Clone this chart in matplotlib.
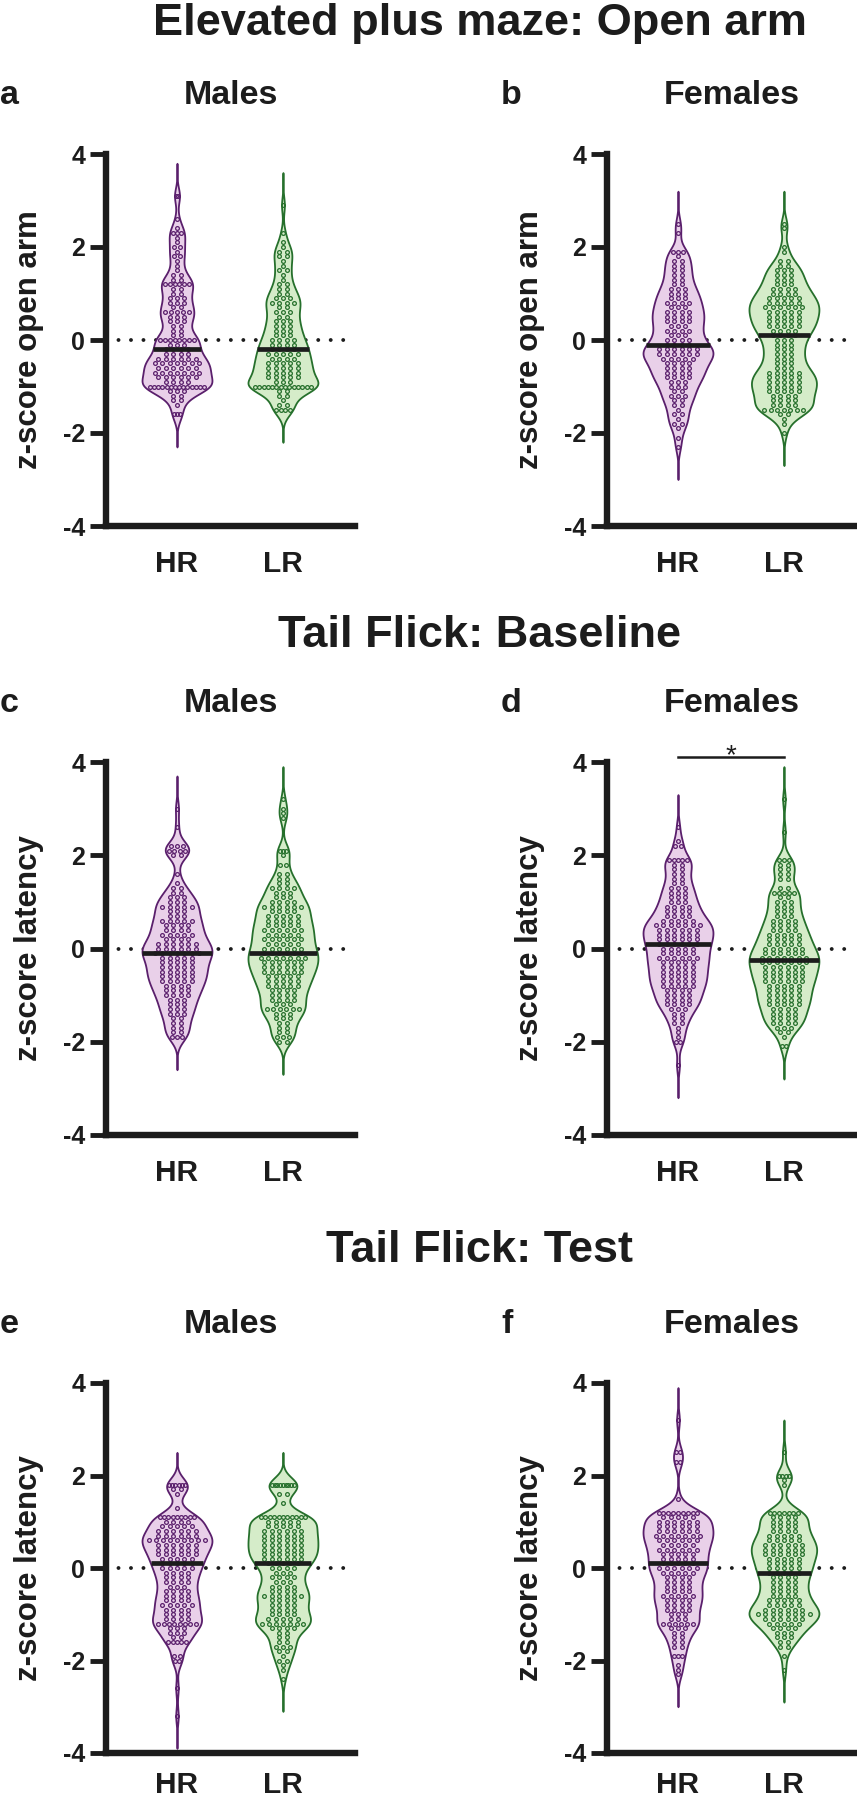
import numpy as np
import matplotlib
matplotlib.use("Agg")
import matplotlib.pyplot as plt
from matplotlib.mlab import GaussianKDE

plt.rcParams['font.family'] = ['Liberation Sans', 'DejaVu Sans']
plt.rcParams['font.weight'] = 'bold'
plt.rcParams['axes.labelweight'] = 'bold'
plt.rcParams['axes.unicode_minus'] = False

# Texte
section_titles = ['Elevated plus maze: Open arm', 'Tail Flick: Baseline', 'Tail Flick: Test']
sexes = ['Males', 'Females']
letters = [['a', 'b'], ['c', 'd'], ['e', 'f']]
y_labels = ['z-score open arm', 'z-score latency', 'z-score latency']
groups = ['HR', 'LR']
y_ticks = [-4, -2, 0, 2, 4]

# Daten: z-score Stufen und Anzahl Tiere pro Stufe (aus der Grafik geschaetzt)
a_hr_y = [-1.6, -1.4, -1.3, -1.2, -1.1, -1.0, -0.9, -0.8, -0.7, -0.6, -0.5, -0.4, -0.3, -0.2, -0.1, 0.0, 0.1, 0.2, 0.3, 0.4,
          0.5, 0.6, 0.7, 0.8, 0.9, 1.0, 1.1, 1.2, 1.3, 1.4, 1.5, 1.6, 1.7, 1.8, 1.9, 2.0, 2.1, 2.2, 2.3, 2.4, 2.6, 3.1]
a_hr_n = [3, 1, 2, 2, 3, 14, 4, 6, 7, 6, 7, 6, 4, 4, 3, 8, 2, 2, 2, 3,
          3, 5, 2, 3, 3, 2, 2, 6, 2, 2, 1, 1, 1, 2, 1, 2, 1, 1, 3, 1, 1, 2]
a_lr_y = [-1.5, -1.4, -1.3, -1.2, -1.1, -1.0, -0.9, -0.8, -0.7, -0.6, -0.5, -0.4, -0.3, -0.2, -0.1, 0.0, 0.1, 0.2, 0.3, 0.4,
          0.5, 0.6, 0.7, 0.8, 0.9, 1.0, 1.1, 1.2, 1.3, 1.4, 1.5, 1.6, 1.7, 1.8, 1.9, 2.0, 2.1, 2.3, 2.9]
a_lr_n = [4, 2, 1, 2, 2, 14, 3, 5, 5, 5, 5, 4, 5, 4, 4, 4, 3, 3, 3, 3,
          2, 3, 2, 4, 3, 2, 2, 2, 1, 1, 2, 1, 1, 2, 2, 1, 1, 1, 1]

b_hr_y = [-2.3, -2.1, -1.9, -1.8, -1.7, -1.6, -1.5, -1.4, -1.3, -1.2, -1.1, -1.0, -0.9, -0.8, -0.7, -0.6, -0.5, -0.4, -0.3, -0.2,
          -0.1, 0.0, 0.1, 0.2, 0.3, 0.4, 0.5, 0.6, 0.7, 0.8, 0.9, 1.0, 1.1, 1.2, 1.3, 1.4, 1.5, 1.6, 1.7, 1.8, 1.9, 2.3, 2.5]
b_hr_n = [1, 1, 1, 2, 1, 2, 1, 2, 2, 3, 2, 3, 3, 4, 4, 4, 4, 5, 6, 6,
          4, 4, 3, 4, 3, 4, 4, 4, 3, 4, 3, 3, 3, 2, 2, 2, 2, 2, 2, 1, 3, 1, 1]
b_lr_y = [-2.0, -1.8, -1.7, -1.6, -1.5, -1.4, -1.3, -1.2, -1.1, -1.0, -0.9, -0.8, -0.7, -0.6, -0.5, -0.4, -0.3, -0.2, -0.1, 0.0,
          0.1, 0.2, 0.3, 0.4, 0.5, 0.6, 0.7, 0.8, 0.9, 1.0, 1.1, 1.2, 1.3, 1.4, 1.5, 1.6, 1.7, 1.9, 2.0, 2.4, 2.5]
b_lr_n = [1, 1, 1, 2, 7, 4, 4, 4, 5, 5, 5, 5, 5, 3, 3, 3, 3, 3, 3, 3,
          4, 4, 5, 5, 5, 5, 6, 5, 5, 4, 4, 3, 3, 3, 3, 2, 2, 1, 1, 1, 1]

c_hr_y = [-1.9, -1.8, -1.7, -1.6, -1.5, -1.4, -1.3, -1.2, -1.1, -1.0, -0.9, -0.8, -0.7, -0.6, -0.5, -0.4, -0.3, -0.2, -0.1, 0.0,
          0.1, 0.2, 0.3, 0.4, 0.5, 0.6, 0.7, 0.8, 0.9, 1.0, 1.1, 1.2, 1.3, 1.4, 1.6, 2.0, 2.1, 2.2, 2.6, 3.0]
c_hr_n = [3, 2, 2, 2, 2, 3, 3, 3, 3, 4, 4, 4, 5, 5, 5, 5, 5, 5, 7, 6,
          6, 4, 5, 4, 4, 5, 3, 3, 5, 3, 3, 2, 2, 1, 1, 2, 4, 3, 1, 1]
c_lr_y = [-2.0, -1.9, -1.8, -1.7, -1.6, -1.5, -1.4, -1.3, -1.2, -1.1, -1.0, -0.9, -0.8, -0.7, -0.6, -0.5, -0.4, -0.3, -0.2, -0.1,
          0.0, 0.1, 0.2, 0.3, 0.4, 0.5, 0.6, 0.7, 0.8, 0.9, 1.0, 1.1, 1.2, 1.3, 1.4, 1.5, 1.6, 1.8, 2.0, 2.1, 2.8, 2.9, 3.0, 3.2]
c_lr_n = [2, 3, 2, 2, 2, 3, 3, 6, 3, 4, 4, 4, 5, 5, 5, 6, 6, 6, 7, 6,
          6, 5, 6, 5, 6, 5, 5, 5, 4, 6, 4, 3, 3, 4, 2, 2, 2, 2, 1, 3, 1, 1, 1, 1]

d_hr_y = [-2.5, -2.0, -1.9, -1.8, -1.7, -1.6, -1.5, -1.4, -1.3, -1.2, -1.1, -1.0, -0.9, -0.8, -0.7, -0.6, -0.5, -0.4, -0.3, -0.2,
          -0.1, 0.0, 0.1, 0.2, 0.3, 0.4, 0.5, 0.6, 0.7, 0.8, 0.9, 1.0, 1.1, 1.2, 1.3, 1.4, 1.5, 1.6, 1.7, 1.8, 1.9, 2.2, 2.3, 2.6]
d_hr_n = [1, 2, 1, 1, 1, 2, 2, 2, 3, 4, 4, 4, 4, 5, 5, 5, 5, 5, 5, 6,
          5, 5, 6, 6, 6, 6, 7, 5, 4, 4, 4, 3, 3, 3, 3, 2, 2, 2, 2, 2, 5, 2, 1, 1]
d_lr_y = [-2.1, -1.9, -1.8, -1.7, -1.6, -1.5, -1.4, -1.3, -1.2, -1.1, -1.0, -0.9, -0.8, -0.7, -0.6, -0.5, -0.4, -0.3, -0.2, -0.1,
          0.0, 0.1, 0.2, 0.3, 0.4, 0.5, 0.6, 0.7, 0.8, 0.9, 1.0, 1.1, 1.2, 1.3, 1.5, 1.6, 1.7, 1.8, 1.9, 2.5, 3.2]
d_lr_n = [2, 1, 2, 3, 4, 4, 4, 4, 5, 5, 5, 5, 5, 6, 6, 6, 6, 7, 7, 6,
          6, 5, 5, 5, 4, 4, 4, 3, 3, 3, 3, 2, 5, 2, 2, 2, 2, 2, 3, 1, 1]

e_hr_y = [-3.2, -2.6, -2.0, -1.9, -1.6, -1.5, -1.4, -1.3, -1.2, -1.1, -1.0, -0.9, -0.8, -0.7, -0.6, -0.5, -0.4, -0.3, -0.2, -0.1,
          0.0, 0.1, 0.2, 0.3, 0.4, 0.5, 0.6, 0.7, 0.8, 0.9, 1.0, 1.1, 1.3, 1.6, 1.7, 1.8]
e_hr_n = [1, 1, 2, 2, 5, 2, 3, 3, 8, 4, 4, 4, 5, 4, 4, 4, 3, 4, 4, 4,
          5, 5, 5, 6, 6, 6, 9, 6, 6, 5, 4, 9, 1, 1, 2, 6]
e_lr_y = [-2.4, -2.2, -2.1, -2.0, -1.9, -1.8, -1.7, -1.6, -1.5, -1.4, -1.3, -1.2, -1.1, -1.0, -0.9, -0.8, -0.7, -0.6, -0.5,
          -0.4, -0.3, -0.2, -0.1, 0.0, 0.1, 0.2, 0.3, 0.4, 0.5, 0.6, 0.7, 0.8, 0.9, 1.0, 1.1, 1.4, 1.6, 1.8]
e_lr_n = [1, 1, 1, 2, 1, 2, 3, 2, 2, 2, 4, 7, 5, 4, 4, 4, 4, 6, 4,
          4, 3, 4, 3, 4, 5, 6, 6, 6, 6, 6, 6, 6, 5, 5, 11, 1, 2, 9]

f_hr_y = [-2.3, -2.2, -2.1, -1.9, -1.7, -1.6, -1.5, -1.4, -1.3, -1.2, -1.1, -1.0, -0.9, -0.8, -0.7, -0.6, -0.5, -0.4, -0.3, -0.2,
          -0.1, 0.0, 0.1, 0.2, 0.3, 0.4, 0.5, 0.6, 0.7, 0.8, 0.9, 1.0, 1.1, 1.2, 1.5, 2.3, 2.5, 3.2]
f_hr_n = [1, 1, 1, 3, 2, 2, 2, 2, 3, 6, 3, 3, 4, 4, 4, 5, 4, 4, 4, 4,
          5, 6, 5, 5, 5, 6, 5, 6, 7, 6, 6, 6, 5, 9, 1, 2, 2, 1]
f_lr_y = [-2.2, -1.9, -1.7, -1.6, -1.5, -1.4, -1.3, -1.2, -1.1, -1.0, -0.9, -0.8, -0.7, -0.6, -0.5, -0.4, -0.3, -0.2, -0.1, 0.0,
          0.1, 0.2, 0.3, 0.4, 0.5, 0.6, 0.7, 0.8, 0.9, 1.0, 1.1, 1.2, 1.8, 1.9, 2.0, 2.5]
f_lr_n = [1, 1, 2, 2, 3, 3, 4, 5, 6, 8, 6, 5, 5, 4, 4, 4, 4, 4, 5, 5,
          5, 5, 6, 6, 6, 5, 5, 4, 4, 4, 4, 7, 1, 1, 4, 1]

panel_data = [[(a_hr_y, a_hr_n, a_lr_y, a_lr_n), (b_hr_y, b_hr_n, b_lr_y, b_lr_n)],
              [(c_hr_y, c_hr_n, c_lr_y, c_lr_n), (d_hr_y, d_hr_n, d_lr_y, d_lr_n)],
              [(e_hr_y, e_hr_n, e_lr_y, e_lr_n), (f_hr_y, f_hr_n, f_lr_y, f_lr_n)]]

# Farben
edge_cols = ['#5a1f6c', '#26702c']
face_cols = ['#e9d0e9', '#d5ecc9']
ink = '#1c1c1c'

# Layout in Pixeln
W, H = 857, 1800
row_top = [154, 762, 1383]
row_bot = [526, 1135, 1753]
col_left = [106, 607]
ax_w = 249
title_base = [35, 647, 1262]
xlab_pad = [17, 17, 13]


def row_offsets(vals, ys, w, max_step):
    xs = np.zeros(len(vals))
    for v in np.unique(vals):
        idx = np.where(vals == v)[0]
        k = len(idx)
        if k < 2:
            continue
        wv = np.interp(v, ys, w)
        step = min(max_step, 2 * wv * 0.9 / k)
        xs[idx] = (np.arange(k) - (k - 1) / 2) * step
    return xs


def draw_violin(ax, vals, pos, edge, face):
    kde = GaussianKDE(vals, bw_method=0.17 / np.std(vals))
    ys = np.linspace(vals.min() - 0.7, vals.max() + 0.7, 500)
    dens = kde.evaluate(ys)
    w = dens / dens.max() * 0.33
    ax.fill_betweenx(ys, pos - w, pos + w, facecolor=face, edgecolor=edge, lw=1.3, zorder=2)
    xs = pos + row_offsets(vals, ys, w, 0.07)
    ax.plot(xs, vals, 'o', ms=2.7, mfc='none', mec=edge, mew=0.9, zorder=3)
    med = np.median(vals)
    wm = np.interp(med, ys, w)
    ax.hlines(med, pos - wm, pos + wm, color=ink, lw=3.4, zorder=4)


fig = plt.figure(figsize=(W / 100, H / 100), dpi=100)

for r in range(3):
    fig.text(480 / W, 1 - title_base[r] / H, section_titles[r], ha='center', va='baseline',
             fontsize=32.5, color=ink)
    for c in range(2):
        left = col_left[c]
        top, bot = row_top[r], row_bot[r]
        ax = fig.add_axes([left / W, 1 - bot / H, ax_w / W, (bot - top) / H])
        hr_y, hr_n, lr_y, lr_n = panel_data[r][c]
        sets = [np.repeat(hr_y, hr_n), np.repeat(lr_y, lr_n)]

        ax.axhline(0, color=ink, lw=2.8, linestyle=(0, (0.01, 3.2)), dash_capstyle='round', zorder=1)
        for i, vals in enumerate(sets):
            draw_violin(ax, vals, i, edge_cols[i], face_cols[i])

        ax.set_xlim(-0.67, 1.68)
        ax.set_ylim(-4, 4)
        ax.set_xticks([0, 1])
        ax.set_xticklabels(groups, fontsize=21.5)
        ax.set_yticks(y_ticks)
        ax.set_yticklabels([str(t) for t in y_ticks], fontsize=18)
        ax.tick_params(axis='x', length=0, pad=xlab_pad[r], colors=ink)
        ax.tick_params(axis='y', length=11.5, width=3.5, pad=3.6, colors=ink)
        for s in ['top', 'right']:
            ax.spines[s].set_visible(False)
        for s in ['left', 'bottom']:
            ax.spines[s].set_linewidth(4.6)
            ax.spines[s].set_color(ink)
            ax.spines[s].set_capstyle('projecting')
        ax.set_ylabel(y_labels[r], fontsize=22.5, fontweight='bold', color=ink)
        ax.yaxis.set_label_coords(-0.249, 0.5)

        # Untertitel und Buchstaben
        fig.text((left + ax_w / 2) / W, 1 - (top - 50) / H, sexes[c], ha='center', va='baseline',
                 fontsize=24.5, color=ink)
        fig.text((0 if c == 0 else 501) / W, 1 - (top - 50) / H, letters[r][c], ha='left', va='baseline',
                 fontsize=24.5, color=ink)

        if r == 1 and c == 1:
            ax.plot([0, 1], [4.11, 4.11], color=ink, lw=1.8, clip_on=False)
            ax.text(0.5, 3.98, '*', ha='center', va='baseline', fontsize=20, fontweight='normal',
                    color=ink, clip_on=False)

fig.savefig('out.png', dpi=100)
